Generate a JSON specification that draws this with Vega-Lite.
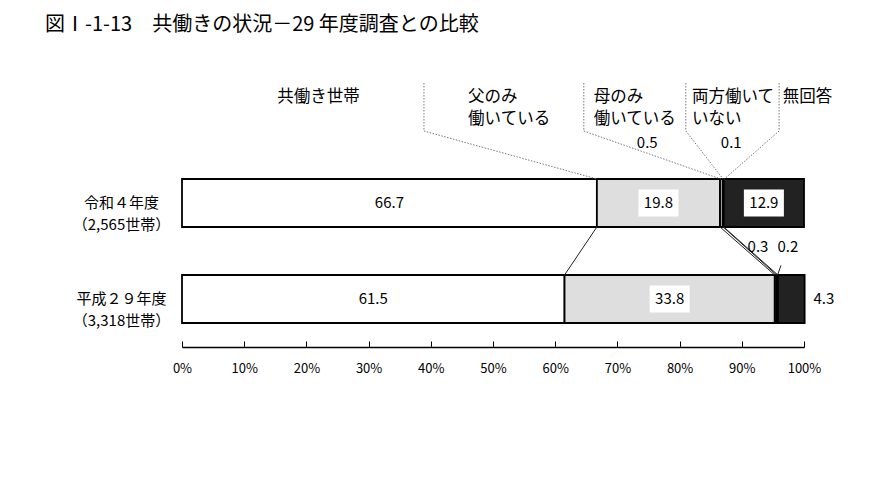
{
  "$schema": "https://vega.github.io/schema/vega-lite/v6.json",
  "width": 622,
  "height": 288,
  "autosize": {"type": "none"},
  "padding": {"left": 182, "top": 59, "right": 78, "bottom": 153},
  "background": "white",
  "title": {
    "text": "図Ⅰ-1-13　共働きの状況－29 年度調査との比較",
    "anchor": "start",
    "frame": "group",
    "dx": -137,
    "offset": 24,
    "fontSize": 20,
    "fontWeight": "normal",
    "font": "Noto Sans CJK JP",
    "color": "#000"
  },
  "config": {"font": "Noto Sans CJK JP", "view": {"stroke": null}},
  "datasets": {
    "bars": [
      {"row": "令和４年度|（2,565世帯）", "cat": "共働き世帯", "order": 1, "value": 66.7},
      {"row": "令和４年度|（2,565世帯）", "cat": "父のみ働いている", "order": 2, "value": 19.8},
      {"row": "令和４年度|（2,565世帯）", "cat": "母のみ働いている", "order": 3, "value": 0.5},
      {"row": "令和４年度|（2,565世帯）", "cat": "両方働いていない", "order": 4, "value": 0.1},
      {"row": "令和４年度|（2,565世帯）", "cat": "無回答", "order": 5, "value": 12.9},
      {"row": "平成２９年度|（3,318世帯）", "cat": "共働き世帯", "order": 1, "value": 61.5},
      {"row": "平成２９年度|（3,318世帯）", "cat": "父のみ働いている", "order": 2, "value": 33.8},
      {"row": "平成２９年度|（3,318世帯）", "cat": "母のみ働いている", "order": 3, "value": 0.3},
      {"row": "平成２９年度|（3,318世帯）", "cat": "両方働いていない", "order": 4, "value": 0.2},
      {"row": "平成２９年度|（3,318世帯）", "cat": "無回答", "order": 5, "value": 4.3}
    ],
    "headers": [
      {"text": "共働き世帯", "x": 15.3},
      {"text": "父のみ\n働いている", "x": 46.0},
      {"text": "母のみ\n働いている", "x": 66.2},
      {"text": "両方働いて\nいない", "x": 82.0},
      {"text": "無回答", "x": 96.6}
    ],
    "leaders": [
      {"from": 38.9, "to": 66.7},
      {"from": 64.6, "to": 86.6},
      {"from": 81.0, "to": 87.0},
      {"from": 96.0, "to": 87.2}
    ],
    "connectors": [
      {"r4": 66.7, "h29": 61.5},
      {"r4": 86.5, "h29": 95.3},
      {"r4": 87.0, "h29": 95.6},
      {"r4": 87.1, "h29": 95.8}
    ],
    "smallTop": [
      {"label": "0.5", "x": 74.8},
      {"label": "0.1", "x": 88.3}
    ],
    "smallMid": [
      {"label": "0.3", "x": 92.6},
      {"label": "0.2", "x": 97.4}
    ],
    "smallLeaders": [
      {"from": 96.3, "to": 95.75}
    ],
    "outside": [
      {"label": "4.3", "x": 103.2}
    ]
  },
  "layer": [
    {
      "data": {"name": "bars"},
      "transform": [
        {"stack": "value", "groupby": ["row"], "sort": [{"field": "order"}], "as": ["v0", "v1"]}
      ],
      "mark": {"type": "bar", "stroke": "#000", "strokeWidth": 1.8},
      "encoding": {
        "y": {
          "field": "row",
          "type": "nominal",
          "sort": null,
          "scale": {
            "domain": ["hdr", "令和４年度|（2,565世帯）", "平成２９年度|（3,318世帯）"],
            "paddingInner": 0.5,
            "paddingOuter": 0.25
          },
          "axis": {
            "title": null,
            "domain": false,
            "ticks": false,
            "labelPadding": 61,
            "labelAlign": "center",
            "labelBaseline": "middle",
            "labelFontSize": 15,
            "labelLineHeight": 22,
            "labelColor": "#000",
            "labelExpr": "datum.value == 'hdr' ? '' : split(datum.value, '|')"
          }
        },
        "x": {
          "field": "v0",
          "type": "quantitative",
          "scale": {"domain": [0, 100], "nice": false},
          "axis": {
            "title": null,
            "values": [0, 10, 20, 30, 40, 50, 60, 70, 80, 90, 100],
            "labelExpr": "datum.value + '%'",
            "grid": false,
            "domainColor": "#000",
            "domainWidth": 1.5,
            "tickColor": "#000",
            "tickSize": -6,
            "labelPadding": 21,
            "labelFontSize": 13,
            "labelColor": "#000",
            "labelFlush": false
          }
        },
        "x2": {"field": "v1"},
        "fill": {
          "field": "cat",
          "type": "nominal",
          "scale": {
            "domain": ["共働き世帯", "父のみ働いている", "母のみ働いている", "両方働いていない", "無回答"],
            "range": ["#ffffff", "#dedede", "#9a9a9a", "#666666", "#222222"]
          },
          "legend": null
        }
      }
    },
    {
      "data": {"name": "bars"},
      "transform": [
        {"stack": "value", "groupby": ["row"], "sort": [{"field": "order"}], "as": ["v0", "v1"]},
        {"calculate": "(datum.v0 + datum.v1) / 2", "as": "mid"},
        {"filter": "datum.value > 10 && datum.order != 1"}
      ],
      "mark": {"type": "point", "shape": "M-1,-0.68H1V0.68H-1Z", "filled": true, "fill": "#ffffff", "strokeWidth": 0, "opacity": 1, "size": 1600},
      "encoding": {
        "x": {"field": "mid", "type": "quantitative"},
        "y": {"field": "row", "type": "nominal"}
      }
    },
    {
      "data": {"name": "bars"},
      "transform": [
        {"stack": "value", "groupby": ["row"], "sort": [{"field": "order"}], "as": ["v0", "v1"]},
        {"calculate": "(datum.v0 + datum.v1) / 2", "as": "mid"},
        {"filter": "datum.value > 10"}
      ],
      "mark": {"type": "text", "fontSize": 15, "color": "#000", "baseline": "middle"},
      "encoding": {
        "x": {"field": "mid", "type": "quantitative"},
        "y": {"field": "row", "type": "nominal"},
        "text": {"field": "value", "type": "quantitative", "format": ".1f"}
      }
    },
    {
      "data": {"name": "connectors"},
      "mark": {"type": "rule", "color": "#222", "strokeWidth": 1},
      "encoding": {
        "x": {"field": "r4", "type": "quantitative"},
        "x2": {"field": "h29"},
        "y": {"datum": "令和４年度|（2,565世帯）", "type": "nominal", "bandPosition": 1},
        "y2": {"datum": "平成２９年度|（3,318世帯）", "bandPosition": 0}
      }
    },
    {
      "data": {"name": "leaders"},
      "mark": {"type": "rule", "color": "#777", "strokeWidth": 1, "strokeDash": [1.5, 1.5]},
      "encoding": {
        "x": {"field": "from", "type": "quantitative"},
        "y": {"datum": "hdr", "type": "nominal", "bandPosition": 0},
        "y2": {"datum": "hdr", "bandPosition": 1}
      }
    },
    {
      "data": {"name": "leaders"},
      "mark": {"type": "rule", "color": "#777", "strokeWidth": 1, "strokeDash": [1.5, 1.5]},
      "encoding": {
        "x": {"field": "from", "type": "quantitative"},
        "x2": {"field": "to"},
        "y": {"datum": "hdr", "type": "nominal", "bandPosition": 1},
        "y2": {"datum": "令和４年度|（2,565世帯）", "bandPosition": 0}
      }
    },
    {
      "data": {"name": "smallLeaders"},
      "mark": {"type": "rule", "color": "#222", "strokeWidth": 1},
      "encoding": {
        "x": {"field": "from", "type": "quantitative"},
        "x2": {"field": "to"},
        "y": {"datum": "令和４年度|（2,565世帯）", "type": "nominal", "bandPosition": 1.8},
        "y2": {"datum": "平成２９年度|（3,318世帯）", "bandPosition": 0}
      }
    },
    {
      "data": {"name": "headers"},
      "mark": {"type": "text", "align": "left", "baseline": "top", "fontSize": 16.5, "lineHeight": 22, "dy": 6, "lineBreak": "\n", "color": "#000"},
      "encoding": {
        "x": {"field": "x", "type": "quantitative"},
        "y": {"datum": "hdr", "type": "nominal", "bandPosition": 0},
        "text": {"field": "text", "type": "nominal"}
      }
    },
    {
      "data": {"name": "smallTop"},
      "mark": {"type": "text", "fontSize": 15, "baseline": "middle", "color": "#000"},
      "encoding": {
        "x": {"field": "x", "type": "quantitative"},
        "y": {"datum": "hdr", "type": "nominal", "bandPosition": 1.25},
        "text": {"field": "label", "type": "nominal"}
      }
    },
    {
      "data": {"name": "smallMid"},
      "mark": {"type": "text", "fontSize": 15, "baseline": "middle", "color": "#000"},
      "encoding": {
        "x": {"field": "x", "type": "quantitative"},
        "y": {"datum": "令和４年度|（2,565世帯）", "type": "nominal", "bandPosition": 1.42},
        "text": {"field": "label", "type": "nominal"}
      }
    },
    {
      "data": {"name": "outside"},
      "mark": {"type": "text", "fontSize": 15, "baseline": "middle", "color": "#000"},
      "encoding": {
        "x": {"field": "x", "type": "quantitative"},
        "y": {"datum": "平成２９年度|（3,318世帯）", "type": "nominal", "bandPosition": 0.5},
        "text": {"field": "label", "type": "nominal"}
      }
    }
  ]
}
